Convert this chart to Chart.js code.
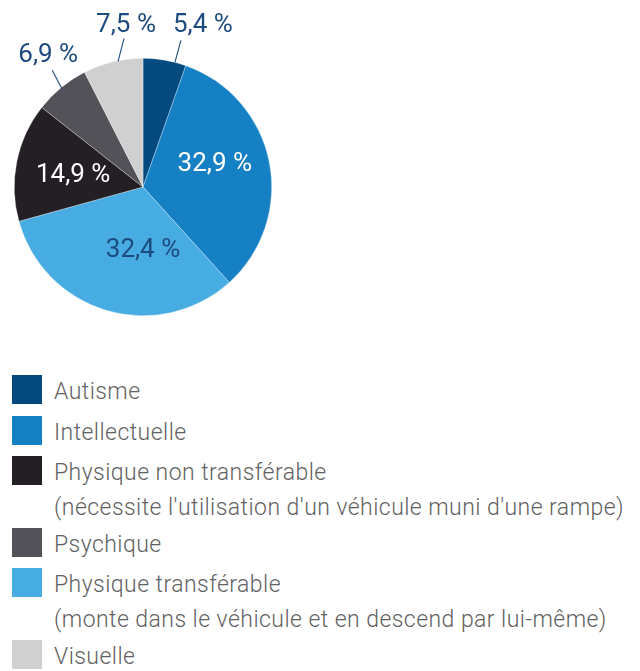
<!DOCTYPE html>
<html><head><meta charset="utf-8">
<script src="https://cdn.jsdelivr.net/npm/chart.js@4/dist/chart.umd.min.js"></script>
<style>
html,body{margin:0;padding:0;background:#fff;width:640px;height:671px;overflow:hidden;}
#wrap{position:absolute;left:0;top:0;width:640px;height:340px;}
#legend{position:absolute;left:0;top:0;width:640px;font-family:Roboto,sans-serif;font-weight:300;font-size:23px;letter-spacing:0.45px;color:#626262;}
.item{position:absolute;left:12px;}
.box{position:absolute;left:0;top:0;width:30px;height:29px;}
.txt{position:absolute;left:42px;top:-1px;white-space:nowrap;line-height:35px;}
</style></head>
<body>
<div id="wrap"><canvas id="c"></canvas></div>
<div id="legend"></div>
<script>
const categories = ["Autisme","Intellectuelle","Physique transférable","Physique non transférable","Psychique","Visuelle"];
const values = [5.4, 32.9, 32.4, 14.9, 6.9, 7.5];
const valueLabels = ["5,4 %","32,9 %","32,4 %","14,9 %","6,9 %","7,5 %"];
const colors = ["#044a7f","#1680c4","#46ace2","#231f24","#545259","#d0d0d0"];
const legendOrder = [0,1,3,4,2,5];
const legendText = {
  0:["Autisme"],
  1:["Intellectuelle"],
  2:["Physique transférable","(monte dans le véhicule et en descend par lui-même)"],
  3:["Physique non transférable","(nécessite l'utilisation d'un véhicule muni d'une rampe)"],
  4:["Psychique"],
  5:["Visuelle"]
};

// label placement relative to pie center (in px at radius 129)
const labelPlace = [
  {dx:60, dy:-162, color:"#1e4b7f", line:[38,-147,32,-125]},
  {dx:72, dy:-23, color:"#ffffff"},
  {dx:0, dy:64, color:"#1e4b7f"},
  {dx:-70, dy:-12, color:"#ffffff"},
  {dx:-95, dy:-132, color:"#1e4b7f", line:[-91,-117,-81,-98]},
  {dx:-17, dy:-162, color:"#1e4b7f", line:[-19,-149,-25,-126]}
];

const labelPlugin = {
  id:'pieLabels',
  afterDatasetsDraw(chart){
    const ctx = chart.ctx;
    const meta = chart.getDatasetMeta(0);
    meta.data.forEach((arc,i)=>{
      const p = arc.getProps(['x','y','outerRadius'],true);
      const s = p.outerRadius/129;
      const L = labelPlace[i];
      ctx.save();
      if(L.line){
        ctx.strokeStyle = "#1e4b7f";
        ctx.lineWidth = 1.1;
        ctx.beginPath();
        ctx.moveTo(p.x+L.line[0]*s, p.y+L.line[1]*s);
        ctx.lineTo(p.x+L.line[2]*s, p.y+L.line[3]*s);
        ctx.stroke();
      }
      ctx.fillStyle = L.color;
      ctx.font = "400 26px Roboto";
      ctx.textAlign = "center";
      ctx.textBaseline = "middle";
      ctx.fillText(valueLabels[i], p.x+L.dx*s, p.y+L.dy*s);
      ctx.restore();
    });
  }
};

new Chart(document.getElementById('c'), {
  type:'pie',
  data:{labels:categories, datasets:[{data:values, backgroundColor:colors, borderColor:"rgba(255,255,255,0.5)", borderWidth:0.6}]},
  options:{
    responsive:true, maintainAspectRatio:false, animation:false,
    layout:{padding:{left:14, right:368, top:58, bottom:24}},
    plugins:{legend:{display:false}, tooltip:{enabled:false}}
  },
  plugins:[labelPlugin]
});

// legend
const rowTops = [375, 416, 456, 528, 568, 640];
const leg = document.getElementById('legend');
legendOrder.forEach((idx,k)=>{
  const it = document.createElement('div');
  it.className='item'; it.style.top = rowTops[k]+'px';
  const b = document.createElement('div'); b.className='box'; b.style.background = colors[idx];
  const t = document.createElement('div'); t.className='txt';
  t.innerHTML = legendText[idx].map(s=>s.replace(/&/g,'&amp;')).join('<br>');
  it.appendChild(b); it.appendChild(t); leg.appendChild(it);
});
</script>
</body></html>
